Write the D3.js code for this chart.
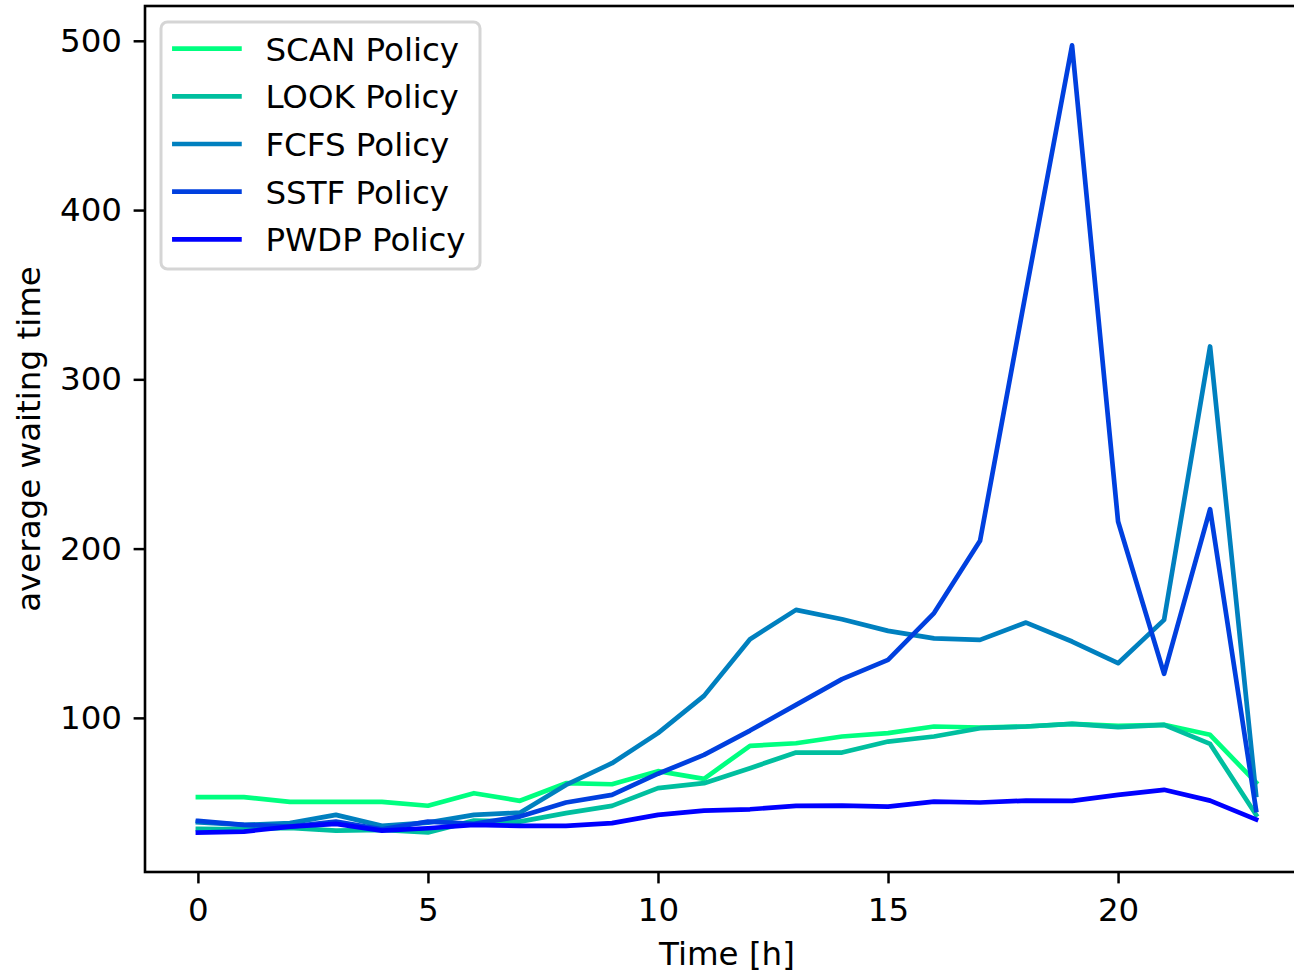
<!DOCTYPE html>
<html>
<head>
<meta charset="utf-8">
<script src="https://cdn.jsdelivr.net/npm/d3@7"></script>
<style>
  html, body { margin: 0; padding: 0; background: #fff; }
  svg { display: block; }
  text { font-family: "DejaVu Sans", sans-serif; fill: #000; }
</style>
</head>
<body>
<div id="chart"></div>
<script>
// Hour of day
const hours = d3.range(0, 24);

// Average waiting time per hour for each scheduling policy
const scanPolicy = [53.2, 53.2, 50.4, 50.4, 50.4, 48.1, 55.5, 51.0, 61.4, 60.8, 68.5, 64.0,
                    83.5, 85.0, 89.0, 91.0, 94.9, 94.3, 94.9, 96.5, 95.3, 95.9, 90.0, 61.8];
const lookPolicy = [34.4, 34.2, 35.0, 33.4, 33.8, 32.3, 39.3, 38.7, 43.7, 48.0, 58.5, 61.4,
                    70.3, 79.5, 79.5, 86.0, 89.0, 93.9, 94.9, 96.5, 94.5, 95.9, 84.6, 42.7];
const fcfsPolicy = [38.3, 36.8, 37.8, 42.7, 36.2, 38.1, 42.7, 44.0, 60.4, 73.2, 91.0, 113.0,
                    146.5, 163.8, 158.3, 151.4, 147.0, 146.1, 156.3, 145.1, 132.3, 157.9, 319.4, 54.5];
const sstfPolicy = [39.1, 36.8, 35.8, 38.7, 34.2, 38.7, 37.4, 41.7, 50.0, 54.5, 67.0, 78.1,
                    92.5, 107.7, 122.9, 134.3, 161.9, 204.6, 352.0, 497.3, 216.0, 126.0, 223.3, 45.6];
const pwdpPolicy = [32.2, 32.8, 35.8, 37.4, 33.4, 34.8, 36.8, 36.2, 36.2, 37.8, 42.7, 45.2,
                    46.0, 48.0, 48.2, 47.6, 50.5, 50.0, 51.1, 51.0, 54.5, 57.5, 51.1, 40.0];

const seriesNames = ["SCAN Policy", "LOOK Policy", "FCFS Policy", "SSTF Policy", "PWDP Policy"];
const seriesValues = [scanPolicy, lookPolicy, fcfsPolicy, sstfPolicy, pwdpPolicy];
const seriesColors = ["#00ff80", "#00bf9f", "#0080bf", "#0040df", "#0000ff"];

const xTicks = [0, 5, 10, 15, 20];
const yTicks = [100, 200, 300, 400, 500];
const xLabel = "Time [h]";
const yLabel = "average waiting time";

// ---- layout ----
const W = 1294, H = 977;
const plot = { left: 145, right: 1309, top: 6, bottom: 872 };
const fs = 32.5;          // font size in px
const tickLen = 11.4;
const lineW = 4.7;

const svg = d3.select("#chart").append("svg")
  .attr("width", W).attr("height", H);

// padded domains, 5% on each side of the data range
function padded(ext) {
  const p = (ext[1] - ext[0]) * 0.05;
  return [ext[0] - p, ext[1] + p];
}
const allVals = seriesValues.flat();
const x = d3.scaleLinear().domain(padded(d3.extent(hours))).range([plot.left, plot.right]);
const y = d3.scaleLinear().domain(padded(d3.extent(allVals))).range([plot.bottom, plot.top]);

// ---- series lines ----
const line = d3.line()
  .x((d, i) => x(hours[i]))
  .y(d => y(d));

svg.append("clipPath").attr("id", "plot-clip")
  .append("rect")
  .attr("x", plot.left).attr("y", plot.top)
  .attr("width", plot.right - plot.left).attr("height", plot.bottom - plot.top);

const lines = svg.append("g").attr("clip-path", "url(#plot-clip)");
seriesValues.forEach((vals, k) => {
  lines.append("path")
    .datum(vals)
    .attr("d", line)
    .attr("fill", "none")
    .attr("stroke", seriesColors[k])
    .attr("stroke-width", lineW)
    .attr("stroke-linejoin", "round")
    .attr("stroke-linecap", "square");
});

// ---- axes ----
const xAxis = svg.append("g")
  .attr("transform", `translate(0,${plot.bottom})`)
  .call(d3.axisBottom(x).tickValues(xTicks).tickSize(tickLen).tickPadding(14.5)
        .tickFormat(d3.format("d")));
const yAxis = svg.append("g")
  .attr("transform", `translate(${plot.left},0)`)
  .call(d3.axisLeft(y).tickValues(yTicks).tickSize(tickLen).tickPadding(11.6)
        .tickFormat(d3.format("d")));

[xAxis, yAxis].forEach(g => {
  g.select(".domain").remove();
  g.selectAll(".tick line").attr("stroke", "#000").attr("stroke-width", 2.5);
  g.selectAll(".tick text")
    .attr("font-family", "DejaVu Sans, sans-serif")
    .attr("font-size", fs)
    .attr("fill", "#000");
});

// frame (spines)
svg.append("rect")
  .attr("x", plot.left).attr("y", plot.top)
  .attr("width", plot.right - plot.left).attr("height", plot.bottom - plot.top)
  .attr("fill", "none").attr("stroke", "#000").attr("stroke-width", 2.6);

// axis titles
svg.append("text")
  .attr("x", (plot.left + plot.right) / 2).attr("y", 964.5)
  .attr("text-anchor", "middle")
  .attr("font-size", fs)
  .text(xLabel);

svg.append("text")
  .attr("transform", `translate(40,${(plot.top + plot.bottom) / 2}) rotate(-90)`)
  .attr("text-anchor", "middle")
  .attr("font-size", fs)
  .text(yLabel);

// ---- legend ----
const legend = svg.append("g");
const lgBox = { x: 161, y: 22, w: 319, h: 247 };
legend.append("rect")
  .attr("x", lgBox.x).attr("y", lgBox.y)
  .attr("width", lgBox.w).attr("height", lgBox.h)
  .attr("rx", 6.5).attr("ry", 6.5)
  .attr("fill", "rgba(255,255,255,0.8)")
  .attr("stroke", "#d5d5d5").attr("stroke-width", 3);

const rowStep = 47.65;
const row0 = 48.7;
seriesNames.forEach((name, k) => {
  const ry = row0 + k * rowStep;
  legend.append("line")
    .attr("x1", 174.4).attr("x2", 239.4)
    .attr("y1", ry).attr("y2", ry)
    .attr("stroke", seriesColors[k])
    .attr("stroke-width", lineW)
    .attr("stroke-linecap", "square");
  legend.append("text")
    .attr("x", 265.4).attr("y", ry + 12)
    .attr("font-size", fs)
    .text(name);
});
</script>
</body>
</html>
